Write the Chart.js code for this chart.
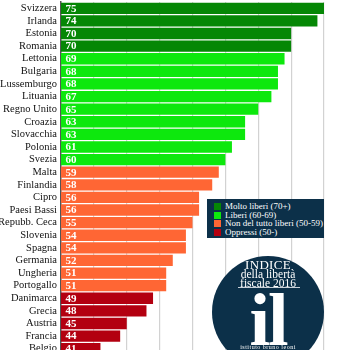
<!DOCTYPE html>
<html>
<head>
<meta charset="utf-8">
<script src="https://cdn.jsdelivr.net/npm/chart.js@4.4.1/dist/chart.umd.min.js"></script>
<style>
  html, body { margin: 0; padding: 0; background: #fff; overflow: hidden; }
  #wrap { position: relative; width: 342px; height: 350px; overflow: hidden; }
  #legend {
    position: absolute; left: 207px; top: 199px; width: 117px; height: 39px;
    background: #0c3049; color: #fff; font: 9px/8.6px "Liberation Serif", serif;
    box-sizing: border-box; padding: 3px 0 0 7px;
  }
  #legend div { white-space: nowrap; }
  #legend span { display: inline-block; width: 7px; height: 7px; margin-right: 4px; vertical-align: -1px; }
  #logo {
    position: absolute; left: 212px; top: 256px; width: 112px; height: 112px;
    border-radius: 50%; background: #0c3049; color: #fff; text-align: center;
    font-family: "Liberation Serif", serif;
  }
  #logo .t1 { position: absolute; left: 0; right: 0; top: 1px; font-size: 13px; letter-spacing: 0.3px; }
  #logo .t2 { position: absolute; left: 0; right: 0; top: 12px; font-size: 11.5px; }
  #logo .t3 { position: absolute; left: 0; right: 0; top: 21px; font-size: 11.5px; }
  #logo .rule { position: absolute; left: 26px; width: 62px; top: 31px; height: 1px; background: #c8d0d8; }
  #logo .il { position: absolute; left: 0; right: 0; top: 27px; font-size: 74px; line-height: 74px; font-weight: bold; letter-spacing: -2px; }
  #logo .t4 { position: absolute; left: 0; right: 0; top: 88px; font-size: 6px; letter-spacing: 0.5px; }
</style>
</head>
<body>
<div id="wrap">
  <canvas id="myChart" width="342" height="355"></canvas>
  <div id="legend">
    <div><span style="background:#058705"></span>Molto liberi (70+)</div>
    <div><span style="background:#0de80d"></span>Liberi (60-69)</div>
    <div><span style="background:#ff6634"></span>Non del tutto liberi (50-59)</div>
    <div><span style="background:#b30010"></span>Oppressi (50-)</div>
  </div>
  <div id="logo">
    <div class="t1">INDICE</div>
    <div class="t2">della libertà</div>
    <div class="t3">fiscale 2016</div>
    <div class="rule"></div>
    <div class="il">il</div>
    <div class="t4">istituto bruno leoni</div>
  </div>
</div>
<script>
const countries = ['Svizzera', 'Irlanda', 'Estonia', 'Romania', 'Lettonia', 'Bulgaria', 'Lussemburgo',
  'Lituania', 'Regno Unito', 'Croazia', 'Slovacchia', 'Polonia', 'Svezia', 'Malta', 'Finlandia',
  'Cipro', 'Paesi Bassi', 'Repubb. Ceca', 'Slovenia', 'Spagna', 'Germania', 'Ungheria',
  'Portogallo', 'Danimarca', 'Grecia', 'Austria', 'Francia', 'Belgio'];
const scores = [75, 74, 70, 70, 69, 68, 68, 67, 65, 63, 63, 61, 60, 59, 58, 56, 56, 55, 54, 54,
  52, 51, 51, 49, 48, 45, 44, 41];

// colour by freedom class
const colorFor = v => v >= 70 ? '#058705' : v >= 60 ? '#0de80d' : v >= 50 ? '#ff6634' : '#b30010';

// white value labels at the base of each bar
const valueLabels = {
  id: 'valueLabels',
  afterDraw(chart) {
    const c = chart.ctx;
    const xs = chart.scales.x, ys = chart.scales.y;
    c.save();
    c.fillStyle = '#ffffff';
    c.font = 'bold 11px "Liberation Serif", serif';
    c.textAlign = 'left';
    c.textBaseline = 'middle';
    scores.forEach((v, i) => {
      c.fillText(String(v), xs.getPixelForValue(xs.min) + 4.5, ys.getPixelForValue(i) + 0.5);
    });
    c.restore();
  }
};

const chart = new Chart(document.getElementById('myChart'), {
  type: 'bar',
  data: {
    labels: countries,
    datasets: [{
      data: scores,
      backgroundColor: scores.map(colorFor),
      barPercentage: 0.9,
      categoryPercentage: 1
    }]
  },
  options: {
    indexAxis: 'y',
    responsive: false,
    animation: false,
    layout: { padding: { top: 2, right: 18, bottom: 0, left: 0 } },
    plugins: { legend: { display: false }, tooltip: { enabled: false } },
    scales: {
      x: {
        min: 35, max: 75,
        ticks: { display: false, stepSize: 5 },
        grid: { color: '#d2d2d2', lineWidth: 1.2, drawTicks: false },
        border: { display: false }
      },
      y: {
        afterFit(scale) { scale.width = 61; scale.paddingTop = 0; scale.paddingBottom = 0; },
        ticks: { color: '#111', padding: 4, font: { family: '"Liberation Serif", serif', size: 10.5 }, autoSkip: false },
        grid: { display: false, drawTicks: false },
        border: { display: true, color: '#555', width: 1.5 }
      }
    }
  },
  plugins: [valueLabels]
});
</script>
</body>
</html>
